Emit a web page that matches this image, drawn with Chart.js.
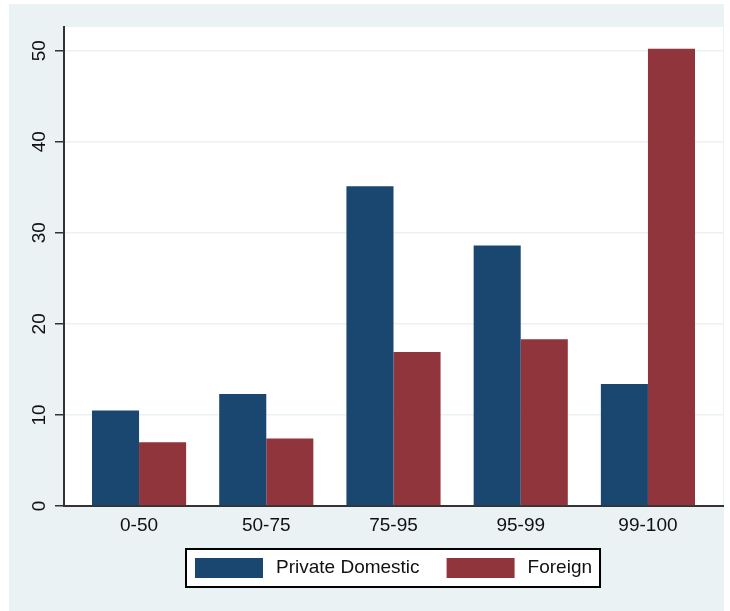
<!DOCTYPE html>
<html>
<head>
<meta charset="utf-8">
<script src="https://cdn.jsdelivr.net/npm/chart.js@4"></script>
<style>
  html, body { margin: 0; padding: 0; background: #ffffff; }
  #wrap { width: 730px; height: 611px; position: relative; }
</style>
</head>
<body>
<div id="wrap"><canvas id="c" width="730" height="611"></canvas></div>
<script>
const categories = ["0-50", "50-75", "75-95", "95-99", "99-100"];
const privateDomestic = [10.5, 12.3, 35.1, 28.6, 13.4];
const foreign = [7.0, 7.4, 16.9, 18.3, 50.2];
const seriesNames = ["Private Domestic", "Foreign"];
const yTicks = [0, 10, 20, 30, 40, 50];

const NAVY = "#1a476f";
const MAROON = "#90353b";
const BG = "#eaf2f3";
const FONT = "'Liberation Sans', Arial, sans-serif";

const toPoints = arr => arr.map((v, i) => ({ x: i, y: v }));

const decor = {
  id: "decor",
  beforeDraw(chart) {
    const ctx = chart.ctx;
    const a = chart.chartArea;
    ctx.save();
    ctx.fillStyle = BG;
    ctx.fillRect(9, 4, 715, 607);
    ctx.fillStyle = "#ffffff";
    ctx.fillRect(a.left, a.top, a.right - a.left, a.bottom - a.top);
    ctx.restore();
  },
  afterDraw(chart) {
    const ctx = chart.ctx;
    const a = chart.chartArea;
    const ys = chart.scales.y;
    ctx.save();
    // rotated y tick labels
    ctx.fillStyle = "#111";
    ctx.font = "19px " + FONT;
    ctx.textAlign = "center";
    ctx.textBaseline = "middle";
    yTicks.forEach(v => {
      const py = ys.getPixelForValue(v);
      ctx.save();
      ctx.translate(40, py);
      ctx.rotate(-Math.PI / 2);
      ctx.fillText(String(v), 0, 0);
      ctx.restore();
    });
    // legend
    const ds = chart.data.datasets;
    ctx.font = "19px " + FONT;
    const sw = 68, sh = 20, gap = 13, itemGap = 27, padL = 9, padR = 8;
    const widths = ds.map(d => ctx.measureText(d.label).width);
    let total = padL + padR;
    widths.forEach((w, i) => { total += sw + gap + w + (i > 0 ? itemGap : 0); });
    const cx = (a.left + a.right) / 2;
    const left = Math.round(cx - total / 2);
    const top = 549, h = 38;
    ctx.fillStyle = "#ffffff";
    ctx.fillRect(left, top, total, h);
    ctx.strokeStyle = "#000";
    ctx.lineWidth = 2;
    ctx.strokeRect(left, top, total, h);
    let x = left + padL;
    ds.forEach((d, i) => {
      if (i > 0) x += itemGap;
      ctx.fillStyle = d.backgroundColor;
      ctx.fillRect(x, top + 9, sw, sh);
      x += sw + gap;
      ctx.fillStyle = "#111";
      ctx.textAlign = "left";
      ctx.textBaseline = "middle";
      ctx.fillText(d.label, x, top + h / 2);
      x += widths[i];
    });
    ctx.restore();
  }
};

new Chart(document.getElementById("c"), {
  type: "bar",
  data: {
    datasets: [
      { label: seriesNames[0], data: toPoints(privateDomestic), backgroundColor: NAVY, borderWidth: 0 },
      { label: seriesNames[1], data: toPoints(foreign), backgroundColor: MAROON, borderWidth: 0 }
    ]
  },
  options: {
    responsive: false,
    animation: false,
    events: [],
    layout: { padding: { left: 9, right: 7, top: 27, bottom: 65 } },
    datasets: { bar: { categoryPercentage: 0.74, barPercentage: 1.0 } },
    plugins: { legend: { display: false }, tooltip: { enabled: false } },
    scales: {
      x: {
        type: "linear",
        min: -0.59,
        max: 4.59,
        offset: false,
        grid: { display: false, drawTicks: false },
        border: { display: true, color: "#333", width: 2 },
        ticks: {
          stepSize: 1,
          includeBounds: false,
          autoSkip: false,
          maxRotation: 0,
          padding: 8,
          color: "#111",
          font: { family: FONT, size: 19 },
          callback: v => (Number.isInteger(v) && categories[v] !== undefined) ? categories[v] : ""
        },
        afterFit: s => { s.height = 40; }
      },
      y: {
        min: 0,
        max: 52.6,
        grid: { color: BG, lineWidth: 1.5, tickColor: "#333", tickLength: 9, tickWidth: 1.5 },
        border: { display: true, color: "#333", width: 2 },
        ticks: { display: false, stepSize: 10, includeBounds: false },
        afterBuildTicks: s => { s.ticks = s.ticks.filter(t => yTicks.includes(t.value)); },
        afterFit: s => { s.width = 55; }
      }
    }
  },
  plugins: [decor]
});
</script>
</body>
</html>
